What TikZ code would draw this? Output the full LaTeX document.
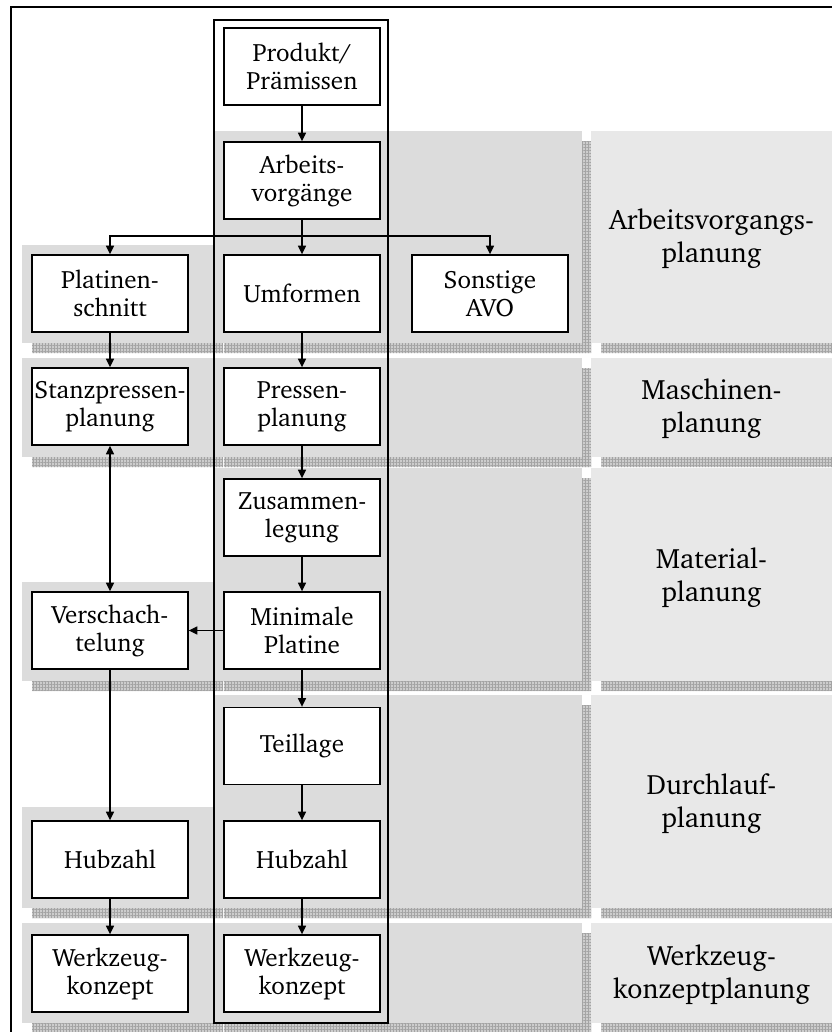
\documentclass[tikz,border=0pt]{standalone}
\usepackage[T1]{fontenc}
\usepackage{charter}
\usetikzlibrary{arrows.meta,patterns.meta}

\definecolor{bandgray}{HTML}{DCDCDC}
\definecolor{labelgray}{HTML}{E8E8E8}
\definecolor{shadegray}{HTML}{CDCDCD}
\definecolor{gridgray}{HTML}{A4A4A4}

\tikzset{
  stepbox/.style={draw, line width=1pt, fill=white, minimum width=117pt,
    minimum height=57.75pt, inner sep=0pt, align=center,
    font=\fontsize{18.8}{21}\selectfont},
  phase/.style={align=center, font=\fontsize{21}{24.75}\selectfont},
  flow/.style={line width=1.1pt, -{Triangle[width=6pt,length=6.5pt]}},
  bothflow/.style={line width=1.1pt, {Triangle[width=6pt,length=6.5pt]}-{Triangle[width=6pt,length=6.5pt]}},
  link/.style={line width=1.1pt},
}

% hatched drop shadow (bottom and right strip) of a band: x1 y1 x2 y2
\newcommand\bandshade[4]{%
  \fill[shadegray] ({#1+10},#4) rectangle ({#3+9},{#4+10})
                   (#3,{#2+10}) rectangle ({#3+9},#4);
  \fill[pattern={Hatch[distance=2.25pt,line width=0.3pt]}, pattern color=gridgray]
                   ({#1+10},#4) rectangle ({#3+9},{#4+10})
                   (#3,{#2+10}) rectangle ({#3+9},#4);
}

\begin{document}
\begin{tikzpicture}[x=0.75pt,y=-0.75pt]
\useasboundingbox (0,0) rectangle (832,1032);

% shadows of the bands
\foreach \ya/\yb in {245/343,358/457,582/681,807/908,923/1023}
  {\bandshade{22}{\ya}{214}{\yb}}
\foreach \ya/\yb in {131/343,358/457,468/681,695/908,923/1023}
  {\bandshade{214}{\ya}{582}{\yb}\bandshade{591}{\ya}{850}{\yb}}

% band fills
\foreach \ya/\yb in {245/343,358/457,582/681,807/908,923/1023}
  {\fill[bandgray] (22,\ya) rectangle (214,\yb);}
\foreach \ya/\yb in {131/343,358/457,468/681,695/908,923/1023}
  {\fill[bandgray] (214,\ya) rectangle (582,\yb);
   \fill[labelgray] (591,\ya) rectangle (850,\yb);}

% outer frame and main column
\draw[line width=1.5pt] (11,1045) -- (11,7) -- (845,7);
\draw[line width=2.2pt] (214,20) rectangle (388,1023);

% phase labels
\node[phase] (lab1) at (711.5,239) {Arbeitsvorgangs-\\planung};
\node[phase] (lab2) at (711.5,409) {Maschinen-\\planung};
\node[phase] (lab3) at (711.5,578) {Material-\\planung};
\node[phase] (lab4) at (711.5,804) {Durchlauf-\\planung};
\node[phase] (lab5) at (711.5,975) {Werkzeug-\\konzeptplanung};

% main column
\node[stepbox] (prod)  at (302,66.5)  {Produkt/\\Pr\"amissen};
\node[stepbox] (arb)   at (302,180.5) {Arbeits-\\vorg\"ange};
\node[stepbox] (umf)   at (302,293.5) {Umformen};
\node[stepbox] (press) at (302,406.5) {Pressen-\\planung};
\node[stepbox] (zus)   at (302,517.5) {Zusammen-\\legung};
\node[stepbox] (minp)  at (302,630.5) {Minimale\\Platine};
\node[stepbox] (teil)  at (302,746)   {Teillage};
\node[stepbox] (hubm)  at (302,859.5) {Hubzahl};
\node[stepbox] (wkzm)  at (302,973.5) {Werkzeug-\\konzept};

% left column
\node[stepbox] (plat)   at (110,293.5) {Platinen-\\schnitt};
\node[stepbox] (stanz)  at (110,406.5) {Stanzpressen-\\planung};
\node[stepbox] (versch) at (110,630.5) {Verschach-\\telung};
\node[stepbox] (hubl)   at (110,859.5) {Hubzahl};
\node[stepbox] (wkzl)   at (110,973.5) {Werkzeug-\\konzept};

% right branch
\node[stepbox] (sonst) at (490,293.5) {Sonstige\\AVO};

% connectors
\coordinate (split) at (302,236);
\draw[flow] (prod) -- (arb);
\draw[link] (arb) -- (split);
\draw[flow] (split) -- (umf);
\draw[flow] (split) -| (plat);
\draw[flow] (split) -| (sonst);
\draw[flow] (umf) -- (press);
\draw[flow] (press) -- (zus);
\draw[flow] (zus) -- (minp);
\draw[flow] (minp) -- (teil);
\draw[flow] (teil) -- (hubm);
\draw[flow] (hubm) -- (wkzm);
\draw[flow] (plat) -- (stanz);
\draw[bothflow] (stanz) -- (versch);
\draw[flow] (minp) -- (versch);
\draw[flow] (versch) -- (hubl);
\draw[flow] (hubl) -- (wkzl);
\end{tikzpicture}
\end{document}
